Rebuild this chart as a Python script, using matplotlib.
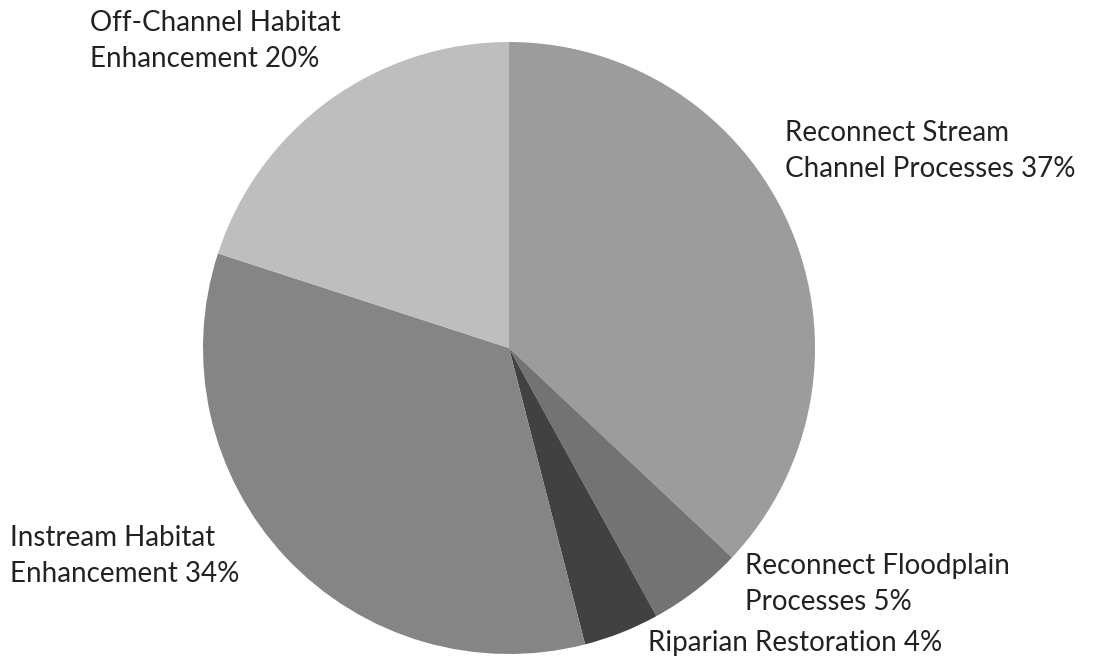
import matplotlib.pyplot as plt

# Data (clockwise from 12 o'clock)
categories = ["Reconnect Stream\nChannel Processes",
              "Reconnect Floodplain\nProcesses",
              "Riparian Restoration",
              "Instream Habitat\nEnhancement",
              "Off-Channel Habitat\nEnhancement"]
shares = [37, 5, 4, 34, 20]
colors = ["#9c9c9c", "#737373", "#414141", "#858585", "#bebebe"]

# label anchor (left, vertical centre) in pixel coords of the 1094x657 picture
label_pos = [(785, 151), (745, 584), (648, 643), (10, 556), (90, 41)]

W, H = 1094, 657
fig = plt.figure(figsize=(W / 100, H / 100), dpi=100)
ax = fig.add_axes([0, 0, 1, 1])

ax.pie(shares, colors=colors, startangle=90, counterclock=False,
       center=(509, H - 348), radius=306,
       wedgeprops=dict(linewidth=0))

ax.set_xlim(0, W)
ax.set_ylim(0, H)
ax.set_aspect('equal')
ax.axis('off')

for name, v, (x, y) in zip(categories, shares, label_pos):
    ax.text(x, H - y, f"{name} {v}%", ha='left', va='center',
            fontsize=20, family='Lato', color='#222222',
            linespacing=1.5)

fig.savefig("out.png", dpi=100)
